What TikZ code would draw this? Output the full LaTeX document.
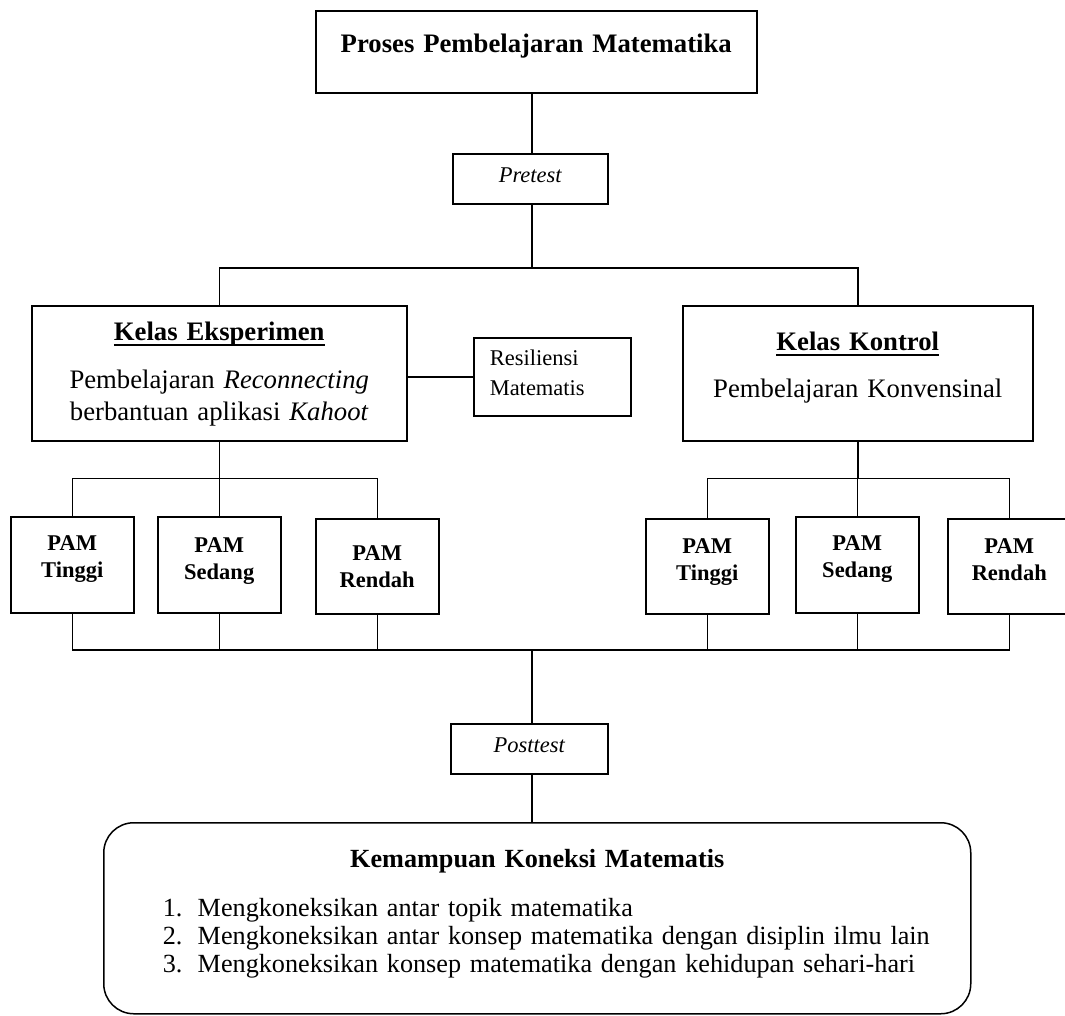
\documentclass[tikz,border=0pt]{standalone}
\usepackage{fontspec}
\setmainfont{Liberation Serif}
\usepackage{tikz}
\usetikzlibrary{calc}

\newcommand{\besar}{\fontsize{26.7}{32}\selectfont}
\newcommand{\kecil}{\fontsize{22.5}{27}\selectfont}
\newcommand{\garisbawah}[1]{\setbox0\hbox{#1}\rlap{\rule[-5pt]{\wd0}{2pt}}\box0}

\begin{document}
\begin{tikzpicture}[x=1pt,y=-1pt,line width=1.5pt,
    kotak/.style={draw, inner sep=0pt, anchor=north west, align=center},
    pam/.style={kotak, font=\kecil\bfseries, text width=123pt}]
            \useasboundingbox (0,0) rectangle (1065,1015);

            % kotak utama
            \node[kotak, text width=441pt, text height=42pt, text depth=40pt, font=\besar\bfseries]
                (proses) at (315,10) {Proses Pembelajaran Matematika};
            \node[kotak, text width=155pt, text height=29pt, text depth=21pt, font=\kecil\itshape]
                (pretest) at (452,153) {Pretest};
            \node[kotak, text width=375pt, text height=35pt, text depth=100pt, font=\besar]
                (eksp) at (31,305) {\garisbawah{\textbf{Kelas Eksperimen}}\\[16pt]
                Pembelajaran \textit{Reconnecting}\\ berbantuan aplikasi \textit{Kahoot}};
            \node[kotak, align=left, text width=157pt, text height=28pt, text depth=50pt, font=\fontsize{22.5}{30}\selectfont]
                (resil) at (473,337) {\hspace*{16pt}Resiliensi\\\hspace*{16pt}Matematis};
            \node[kotak, text width=350pt, text height=45pt, text depth=90pt, font=\besar]
                (kontrol) at (682,305) {\garisbawah{\textbf{Kelas Kontrol}}\\[15pt] Pembelajaran Konvensinal};

            % kelompok PAM
            \node[pam, text height=34pt, text depth=62pt] (lting) at (10,516) {PAM\\Tinggi};
            \node[pam, text height=36pt, text depth=60pt] (lsed) at (157,516) {PAM\\Sedang};
            \node[pam, text height=42pt, text depth=53pt] (lren) at (315,518) {PAM\\Rendah};
            \node[pam, text height=35pt, text depth=60pt] (rting) at (645,518) {PAM\\Tinggi};
            \node[pam, text height=34pt, text depth=62pt] (rsed) at (795,516) {PAM\\Sedang};
            \node[pam, text height=35pt, text depth=60pt] (rren) at (947,518) {PAM\\Rendah};

            \node[kotak, text width=157pt, text height=29pt, text depth=21pt, font=\kecil\itshape]
                (posttest) at (450,723) {Posttest};
            \node[kotak, rounded corners=30pt, align=left, text width=867pt, text height=45pt, text depth=146pt,
                font=\fontsize{26.2}{28}\selectfont]
                (hasil) at (103,822) {\makebox[\linewidth][c]{\textbf{Kemampuan Koneksi Matematis}}\\[21pt]
                \hspace*{59pt}\makebox[35pt][l]{1.}Mengkoneksikan antar topik matematika\\
                \hspace*{59pt}\makebox[35pt][l]{2.}Mengkoneksikan antar konsep matematika dengan disiplin ilmu lain\\
                \hspace*{59pt}\makebox[35pt][l]{3.}Mengkoneksikan konsep matematika dengan kehidupan sehari-hari};

            % titik cabang
            \coordinate (cabang) at (532,268);
            \coordinate (kiri) at ($(eksp.south)+(0,37)$);
            \coordinate (kanan) at ($(kontrol.south)+(0,37)$);
            \coordinate (gabung) at (532,650);

            \draw (proses.south -| cabang) -- (pretest.north -| cabang);
            \draw (pretest.south -| cabang) -- (cabang);
            \draw (eksp.north) |- (cabang) -| (kontrol.north);
            \draw (eksp.east |- resil.west) -- (resil.west);

            \draw (eksp.south) -- (kiri);
            \draw (lting.north) |- (kiri) -| (lren.north);
            \draw (lsed.north) -- (lsed.north |- kiri);
            \draw (kontrol.south) -- (kanan);
            \draw (rting.north) |- (kanan) -| (rren.north);
            \draw (rsed.north) -- (rsed.north |- kanan);

            \draw (lting.south) |- (gabung) -| (rren.south);
            \foreach \n in {lsed,lren,rting,rsed}
                \draw (\n.south) -- (\n.south |- gabung);
            \draw (gabung) -- (posttest.north -| gabung);
            \draw (posttest.south -| gabung) -- (hasil.north -| gabung);
        \end{tikzpicture}
\end{document}
